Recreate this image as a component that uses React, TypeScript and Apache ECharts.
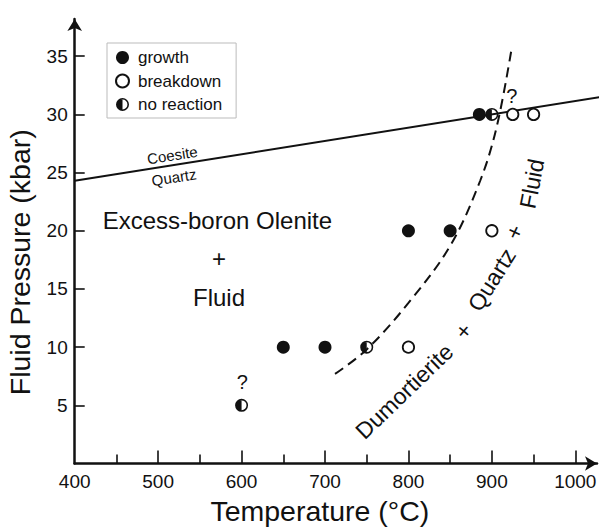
import React, { useEffect, useRef } from 'react';
import * as echarts from 'echarts';

// ---- axis ticks / labels ----
const xTickMajor = [500, 600, 700, 800, 900, 1000];
const xTickMinor = [450, 550, 650, 750, 850, 950];
const xLabels = [400, 500, 600, 700, 800, 900, 1000];
const yTicks = [5, 10, 15, 20, 25, 30, 35];

// ---- experimental results [T (°C), P (kbar)] ----
const growth = [[650, 10], [700, 10], [800, 20], [850, 20], [885, 30]];
const breakdown = [[800, 10], [900, 20], [925, 30], [950, 30]];
const noReaction = [[600, 5], [750, 10], [900, 30]];

// ---- phase boundaries ----
const coesiteQuartz = [[400, 24.3], [1031, 31.5]];
const boundary = [
  [712, 7.7], [750, 9.8], [800, 13.8], [850, 18.7], [886, 24.3], [906, 29.0], [924, 35.8],
];

// ---- annotation texts ----
const annotationTexts = [
  'Coesite', 'Quartz', 'Excess-boron Olenite', '+', 'Fluid', '?', '?',
  'Dumortierite', '+', 'Quartz', '+', 'Fluid',
];
// layout for annotations: [T, P, rotate, fontSize]
const annotationLayout = [
  [517, 26.5, 9, 15], [519, 24.6, 9, 15], [571, 20.9, 0, 24], [573, 17.6, 0, 24],
  [573, 14.3, 0, 24], [601, 7.0, 0, 20], [924, 31.6, 0, 20],
  [795, 6.2, 44, 23], [866, 11.4, 50, 23], [900, 15.8, 58, 23], [927, 19.9, 65, 23],
  [948, 24.05, 79, 23],
];

export default function App() {
  const ref = useRef<HTMLDivElement>(null);
  useEffect(() => {
    const chart = echarts.init(ref.current!, null, { renderer: 'svg' });
    const font = "'Liberation Sans', Arial, Helvetica, sans-serif";
    const ink = '#111111';
    const halfPath =
      'path://M50,0A50,50 0 1,1 50,100A50,50 0 1,1 50,0ZM50,12A38,38 0 1,0 50,88A38,38 0 1,0 50,12ZM50,0L50,100A50,50 0 0,1 50,0Z';

    const axisLineStyle = { color: ink, width: 2.5 };
    const plainNum = (v: number) => String(v);

    chart.setOption({
      animation: false,
      backgroundColor: '#fff',
      textStyle: { fontFamily: font },
      grid: { left: 74.7, right: 6, top: 19, bottom: 63.5, containLabel: false, outerBoundsMode: 'none' },
      legend: {
        orient: 'vertical',
        left: 107,
        top: 43,
        data: ['growth', 'breakdown', 'no reaction'],
        itemWidth: 21,
        itemHeight: 13,
        itemGap: 6.5,
        padding: [6, 14, 5, 8],
        borderColor: '#bbb',
        borderWidth: 1,
        backgroundColor: '#fff',
        textStyle: { fontSize: 17, color: ink, fontFamily: font },
      },
      xAxis: [
        {
          type: 'value',
          min: 400,
          max: 1026,
          position: 'bottom',
          axisLine: { show: true, onZero: false, lineStyle: axisLineStyle, symbol: ['none', 'arrow'], symbolSize: [11, 12] },
          axisTick: { show: true, inside: true, length: 13, customValues: xTickMajor, lineStyle: { color: ink, width: 1.6 } },
          axisLabel: { customValues: xLabels, formatter: plainNum, margin: 8, fontSize: 19, color: ink, fontFamily: font },
          splitLine: { show: false },
          name: 'Temperature (°C)',
          nameLocation: 'middle',
          nameGap: 33,
          nameTextStyle: { fontSize: 28.5, color: ink, fontFamily: font, padding: [0, 32, 0, 0] },
        },
        {
          type: 'value',
          min: 400,
          max: 1026,
          position: 'bottom',
          axisLine: { show: false },
          axisTick: { show: true, inside: true, length: 9, customValues: xTickMinor, lineStyle: { color: ink, width: 1.6 } },
          axisLabel: { show: false },
          splitLine: { show: false },
        },
      ],
      yAxis: {
        type: 'value',
        min: 0,
        max: 38.2,
        axisLine: { show: true, onZero: false, lineStyle: axisLineStyle, symbol: ['none', 'arrow'], symbolSize: [11, 12] },
        axisTick: { show: true, inside: true, length: 10, customValues: yTicks, lineStyle: { color: ink, width: 1.6 } },
        axisLabel: { customValues: yTicks, formatter: plainNum, margin: 7, fontSize: 19, color: ink, fontFamily: font },
        splitLine: { show: false },
        name: 'Fluid Pressure (kbar)',
        nameLocation: 'middle',
        nameGap: 40,
        nameTextStyle: { fontSize: 28.5, color: ink, fontFamily: font, padding: [0, 42, 0, 0] },
      },
      series: [
        {
          name: 'Coesite-Quartz',
          type: 'line',
          data: coesiteQuartz,
          symbol: 'none',
          clip: false,
          silent: true,
          z: 1,
          lineStyle: { color: ink, width: 2 },
        },
        {
          name: 'boundary',
          type: 'line',
          data: boundary,
          smooth: 0.35,
          symbol: 'none',
          clip: false,
          silent: true,
          z: 1,
          lineStyle: { color: ink, width: 2, type: [10, 6] },
        },
        {
          name: 'growth',
          type: 'scatter',
          data: growth,
          symbol: 'circle',
          symbolSize: 13,
          z: 3,
          itemStyle: { color: ink, opacity: 1 },
        },
        {
          name: 'breakdown',
          type: 'scatter',
          data: breakdown,
          symbol: 'circle',
          symbolSize: 11.4,
          z: 3,
          itemStyle: { color: '#fff', borderColor: ink, borderWidth: 1.8, opacity: 1 },
        },
        {
          name: 'no reaction',
          type: 'scatter',
          data: noReaction,
          symbol: halfPath,
          symbolSize: 13,
          z: 4,
          itemStyle: { color: ink, opacity: 1 },
        },
        {
          name: 'annotations',
          type: 'scatter',
          silent: true,
          symbol: 'circle',
          symbolSize: 1,
          z: 5,
          itemStyle: { color: 'rgba(0,0,0,0)', opacity: 1 },
          data: annotationTexts.map((t, i) => ({
            name: t,
            value: [annotationLayout[i][0], annotationLayout[i][1]],
            label: { rotate: annotationLayout[i][2], fontSize: annotationLayout[i][3], color: ink },
          })),
          label: {
            show: true,
            position: 'inside',
            formatter: '{b}',
            color: ink,
            opacity: 1,
            fontFamily: font,
          },
        },
      ],
    });
    return () => chart.dispose();
  }, []);
  return (
    <div
      ref={ref}
      style={{ position: 'fixed', left: 0, top: 0, width: 603, height: 527, background: '#fff' }}
    />
  );
}
